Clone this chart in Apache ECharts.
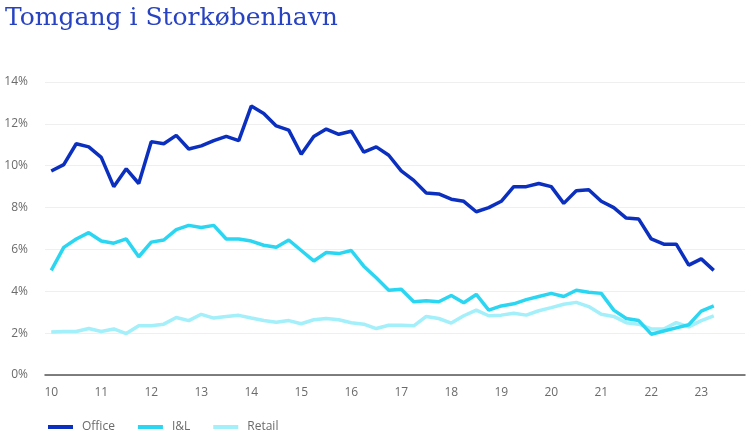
<!DOCTYPE html>
<html>
<head>
<meta charset="utf-8">
<script src="https://cdn.jsdelivr.net/npm/echarts@6/dist/echarts.min.js"></script>
<style>
html,body{margin:0;padding:0;background:#fff;}
#c{width:750px;height:437px;}
</style>
</head>
<body>
<div id="c"></div>
<script>
var years = ['10','11','12','13','14','15','16','17','18','19','20','21','22','23'];
var quarters = ['Q1','Q2','Q3','Q4'];
var office = [9.75,10.05,11.05,10.9,10.4,9.0,9.85,9.15,11.15,11.05,11.45,10.8,10.95,11.2,11.4,11.2,12.85,12.5,11.9,11.7,10.55,11.4,11.75,11.5,11.65,10.65,10.9,10.5,9.75,9.3,8.7,8.65,8.4,8.3,7.8,8.0,8.3,9.0,9.0,9.15,9.0,8.2,8.8,8.85,8.3,8.0,7.5,7.45,6.5,6.25,6.25,5.25,5.55,5.0];
var il = [5.0,6.1,6.5,6.8,6.4,6.3,6.5,5.65,6.35,6.45,6.95,7.15,7.05,7.15,6.5,6.5,6.4,6.2,6.1,6.45,5.95,5.45,5.85,5.8,5.95,5.2,4.65,4.05,4.1,3.5,3.55,3.5,3.8,3.45,3.85,3.1,3.3,3.4,3.6,3.75,3.9,3.75,4.05,3.95,3.9,3.1,2.7,2.6,1.95,2.1,2.25,2.4,3.05,3.3];
var retail = [2.05,2.08,2.08,2.22,2.08,2.2,1.98,2.35,2.35,2.43,2.75,2.6,2.9,2.72,2.8,2.85,2.72,2.6,2.52,2.6,2.45,2.64,2.7,2.64,2.5,2.43,2.22,2.38,2.38,2.35,2.8,2.7,2.48,2.83,3.1,2.83,2.86,2.95,2.86,3.07,3.22,3.38,3.47,3.27,2.9,2.8,2.5,2.43,2.2,2.2,2.5,2.3,2.6,2.83];
var yTicks = [0,2,4,6,8,10,12,14];

var cats = [];
years.forEach(function(y){ quarters.forEach(function(q){ cats.push(y + ' ' + q); }); });

var chart = echarts.init(document.getElementById('c'), null, {renderer:'canvas'});
var lineW = 3.5;
chart.setOption({
  animation:false,
  backgroundColor:'#ffffff',
  title:{
    text:'Tomgang i Storkøbenhavn',
    left:0, top:1,
    textStyle:{fontFamily:'DejaVu Serif', fontWeight:'normal', fontSize:25, color:'#2843c2'}
  },
  legend:{
    left:43, top:416, itemWidth:25, itemHeight:4, itemGap:23,
    icon:'rect',
    textStyle:{fontFamily:'Open Sans', fontSize:12, color:'#6b6b6b', padding:[0,0,0,4]},
    data:['Office','I&L','Retail']
  },
  grid:{left:45, right:5, top:82, bottom:62, containLabel:false},
  xAxis:{
    type:'category', data:cats, boundaryGap:true,
    axisLine:{lineStyle:{color:'#555555', width:1.5}},
    axisTick:{show:false},
    axisLabel:{interval:3, margin:12, fontFamily:'Open Sans', fontSize:12, color:'#6b6b6b',
      formatter:function(v){ return v.split(' ')[0]; }}
  },
  yAxis:{
    type:'value', min:yTicks[0], max:yTicks[yTicks.length-1], interval:2,
    axisLine:{show:false}, axisTick:{show:false},
    splitLine:{lineStyle:{color:'#efefef', width:1}},
    axisLabel:{margin:17, fontFamily:'Open Sans', fontSize:12, color:'#6b6b6b', formatter:'{value}%'}
  },
  series:[
    {name:'Office', type:'line', data:office, symbol:'none', lineStyle:{width:lineW, color:'#0b2fbf'}, itemStyle:{color:'#0b2fbf'}, z:3},
    {name:'I&L', type:'line', data:il, symbol:'none', lineStyle:{width:lineW, color:'#2ad6f2'}, itemStyle:{color:'#2ad6f2'}, z:2},
    {name:'Retail', type:'line', data:retail, symbol:'none', lineStyle:{width:lineW, color:'#a3effa'}, itemStyle:{color:'#a3effa'}, z:1}
  ]
});
</script>
</body>
</html>
